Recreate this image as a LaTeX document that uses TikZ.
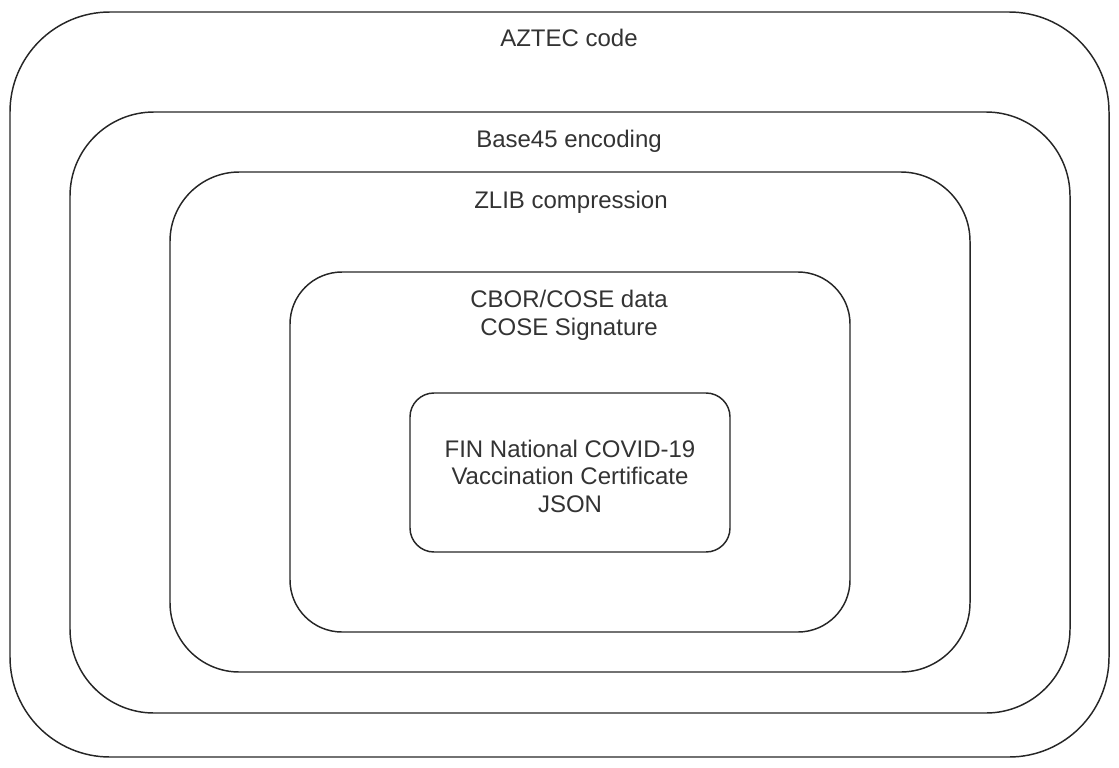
\documentclass[tikz,border=0pt]{standalone}
\usepackage{fontspec}
\setmainfont{Liberation Sans}
\definecolor{txt}{HTML}{333333}
\begin{document}
\begin{tikzpicture}[x=0.75pt,y=-0.75pt,
  box/.style={draw=black!85, line width=1.1pt, fill=none, inner sep=0pt, rectangle},
  lbl/.style={text=txt, font=\fontsize{18}{20.5}\selectfont, align=center, inner sep=0pt, anchor=base}]
\useasboundingbox (0,0) rectangle (1119,767);
\node[box, rounded corners=75pt, minimum width=824.25pt, minimum height=558.75pt] (aztec) at (559.5,384.5) {};
\node[box, rounded corners=63pt, minimum width=750pt, minimum height=450.75pt] (base) at (570,412.5) {};
\node[box, rounded corners=52pt, minimum width=600pt, minimum height=375pt] (zlib) at (570,422) {};
\node[box, rounded corners=39pt, minimum width=420pt, minimum height=270pt] (cbor) at (570,452) {};
\node[box, rounded corners=18pt, minimum width=240pt, minimum height=119.25pt] (json) at (570,472.5) {};
\node[lbl] (aztecl) at (569,47) {AZTEC code};
\node[lbl] (basel) at (569,147) {Base45 encoding};
\node[lbl] (zlibl) at (571,208) {ZLIB compression};
\node[lbl] (cborl) at (569,335) {CBOR/COSE data\\COSE Signature};
\node[lbl] (jsonl) at (570,512) {FIN National COVID-19\\Vaccination Certificate\\JSON};
\end{tikzpicture}
\end{document}
